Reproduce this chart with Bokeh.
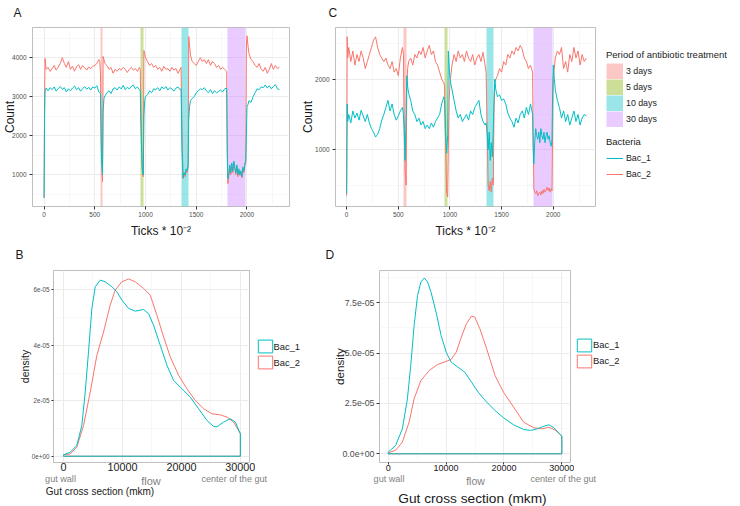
from bokeh.plotting import figure
from bokeh.layouts import row, column
from bokeh.models import Range1d, FixedTicker, Legend, LegendItem, Title, Div
from bokeh.embed import file_html
from bokeh.resources import INLINE

# ---------------- data ----------------
ticks_x = [0, 5, 10, 20, 40, 60, 80, 100, 120, 140, 160, 180, 200, 220, 240, 260, 280, 300, 320, 340, 360, 380, 400, 420, 440, 460, 480, 500, 520, 540,
           550, 556, 566, 576, 582, 590, 600, 620, 640, 660, 680, 700, 720, 740, 760, 780, 800, 820, 840, 860, 880, 900, 920, 940,
           948, 956, 968, 978, 984, 992, 1000, 1020, 1040, 1060, 1080, 1100, 1120, 1140, 1160, 1180, 1200, 1220, 1240, 1260, 1280, 1300, 1320, 1340,
           1350, 1360, 1370, 1380, 1390, 1400, 1410, 1420, 1426, 1434, 1444, 1460, 1480, 1500, 1520, 1540, 1560, 1580, 1600, 1620, 1640, 1660, 1680, 1700, 1720, 1740, 1760, 1780, 1800,
           1806, 1812, 1820, 1830, 1840, 1850, 1860, 1870, 1880, 1890, 1900, 1910, 1920, 1930, 1940, 1950, 1960, 1970, 1980, 1988, 1994, 2000, 2010, 2020, 2040, 2060, 2080, 2100, 2120, 2140, 2160, 2180, 2200, 2220, 2240, 2260, 2280, 2300, 2320]

a_bac1 = [410, 2400, 3150, 3220, 3150, 3230, 3180, 3250, 3140, 3210, 3260, 3190, 3230, 3120, 3200, 3150, 3220, 3270, 3180, 3230, 3140, 3200, 3260, 3190, 3240, 3170, 3250, 3220, 3280, 3120,
          3100, 3080, 1400, 1000, 2600, 2950, 3020, 3100, 3150, 3080, 3200, 3230, 3170, 3250, 3200, 3290, 3180, 3240, 3200, 3260, 3300, 3200, 3250, 3180,
          3150, 2100, 1100, 1000, 2500, 2900, 3000, 3050, 3150, 3100, 3200, 3180, 3230, 3150, 3250, 3200, 3260, 3170, 3230, 3200, 3140, 3220, 3250, 3180,
          3200, 1600, 920, 1050, 1000, 1150, 1100, 1250, 2400, 2750, 2900, 2950, 3000, 3100, 3150, 3200, 3180, 3230, 3150, 3100, 3180, 3080, 3150, 3100, 3130, 3170, 3120, 3200, 3220,
          1500, 900, 1000, 1250, 1050, 1300, 1100, 1350, 1200, 1050, 1250, 1000, 1150, 1000, 1100, 950, 1200, 1100, 1300, 1350, 2000, 2750, 2800, 2900, 2850, 3000, 3100, 3200, 3180, 3250, 3230, 3300, 3220, 3280, 3200, 3260, 3310, 3200, 3180]

a_bac2 = [400, 3000, 3980, 3700, 3750, 3650, 3720, 3800, 3680, 3760, 3850, 4000, 3850, 3750, 3900, 3700, 3780, 3650, 3760, 3820, 3700, 3800, 3740, 3680, 3760, 3720, 3780, 3800, 3850, 3950,
          3900, 3600, 1500, 820, 4030, 3950, 3850, 3800, 3700, 3750, 3600, 3700, 3650, 3720, 3680, 3750, 3700, 3620, 3700, 3750, 3680, 3720, 3650, 3750,
          3700, 2500, 1200, 950, 4180, 4100, 4000, 3900, 3800, 3850, 3750, 3800, 3700, 3750, 3650, 3780, 3700, 3720, 3650, 3750, 3680, 3720, 3600, 3700,
          3750, 2000, 900, 1000, 950, 1100, 1050, 1200, 4540, 4300, 4050, 3900, 3850, 3800, 3900, 4000, 3900, 3950, 3850, 3950, 3800, 3900, 3850, 3750, 3800, 3700, 3750, 3700, 3650,
          1500, 770, 950, 1200, 1000, 1250, 1050, 1300, 1150, 1000, 1200, 950, 1100, 980, 1050, 920, 1150, 1050, 1250, 1300, 4300, 4560, 4300, 4100, 3950, 3900, 3800, 3750, 3850, 3700, 3650, 3750, 3600, 3700, 3850, 3700, 3800, 3720, 3750]

c_bac1 = [380, 1650, 1400, 1500, 1380, 1550, 1450, 1520, 1420, 1560, 1480, 1400, 1500, 1380, 1300, 1250, 1180, 1220, 1300, 1420, 1500, 1600, 1700, 1550, 1650, 1500, 1420, 1480, 1550, 1600,
          1500, 1300, 850, 1500, 2050, 1900, 1800, 1700, 1550, 1500, 1400, 1450, 1350, 1400, 1300, 1350, 1300, 1380, 1320, 1400, 1450, 1500, 1650, 1750,
          1700, 1300, 950, 1200, 2400, 2200, 2000, 1850, 1700, 1550, 1450, 1500, 1400, 1450, 1500, 1420, 1550, 1500, 1600, 1650, 1700, 1500, 1400, 1350,
          1380, 1250, 1000, 1250, 850, 1100, 900, 1300, 1700, 2000, 1850, 1750, 1780, 1700, 1720, 1650, 1520, 1450, 1400, 1320, 1450, 1380, 1500, 1550, 1450, 1600, 1500, 1650, 1500,
          1000, 800, 1100, 1300, 1200, 1150, 1250, 1100, 1300, 1200, 1150, 1250, 1100, 1200, 1250, 1150, 1200, 1100, 1050, 1150, 1800, 2200, 2000, 1850, 1700, 1600, 1450, 1550, 1400, 1500, 1350, 1450, 1550, 1400, 1500, 1350, 1450, 1500, 1480]

c_bac2 = [350, 2600, 2300, 2450, 2250, 2400, 2200, 2350, 2250, 2400, 2300, 2150, 2250, 2350, 2450, 2550, 2600, 2450, 2350, 2300, 2250, 2300, 2200, 2150, 2250, 2100, 2150, 2050, 2300, 2450,
          2350, 1500, 700, 500, 1800, 2150, 2250, 2300, 2200, 2350, 2300, 2400, 2350, 2450, 2300, 2400, 2480, 2350, 2400, 2250, 2200, 2100, 2000, 1950,
          1900, 1200, 400, 330, 1000, 1700, 1950, 2200, 2350, 2250, 2400, 2300, 2350, 2250, 2400, 2300, 2250, 2350, 2200, 2300, 2350, 2250, 2380, 2200,
          2100, 1300, 500, 420, 550, 400, 600, 500, 1500, 1950, 2000, 2050, 2150, 2100, 2250, 2200, 2350, 2300, 2400, 2350, 2450, 2400, 2480, 2420, 2300, 2250, 2150, 2200, 2100,
          1200, 450, 400, 380, 420, 350, 380, 400, 360, 420, 380, 440, 400, 430, 470, 420, 460, 400, 450, 420, 1300, 2000, 2150, 2300, 2400, 2350, 2450, 2150, 2250, 2100, 2350, 2250, 2450, 2300, 2400, 2200, 2350, 2250, 2300]

periods = ["3 days", "5 days", "10 days", "30 days"]
period_start = [554, 950, 1358, 1804]
period_end = [577, 981, 1420, 1988]
period_colors = ["#F8766D", "#7CAE00", "#00BFC4", "#C77CFF"]

bacteria = ["Bac_1", "Bac_2"]
bac_colors = ["#00BFC4", "#F8766D"]

# density (x in mkm, y in units of 1e-05)
b_x_bac1 = [0, 1130, 2260, 3110, 3680, 4240, 4810, 5380, 6230, 7070, 8210, 9050, 9900, 11040, 12170, 13580, 14430, 15280, 16410, 17540, 18680, 20090, 21510, 22920, 24330, 25470, 26030, 27160, 28300, 29150, 30000]
b_y_bac1 = [0.05, 0.14, 0.39, 1.11, 2.31, 3.76, 5.33, 6.11, 6.35, 6.29, 6.11, 5.93, 5.63, 5.33, 5.23, 5.29, 5.14, 4.72, 4.0, 3.28, 2.73, 2.43, 2.13, 1.71, 1.29, 1.07, 1.06, 1.23, 1.35, 1.23, 0.81]
b_x_bac2 = [0, 1130, 2260, 3400, 4530, 5660, 6790, 7920, 8770, 9900, 11040, 12170, 13580, 14710, 15850, 16980, 18110, 19520, 20940, 22350, 23770, 25180, 26600, 27730, 28860, 30000]
b_y_bac2 = [0.05, 0.08, 0.33, 1.11, 2.31, 3.64, 4.48, 5.45, 5.99, 6.29, 6.39, 6.29, 6.05, 5.81, 5.08, 4.30, 3.58, 2.92, 2.43, 2.01, 1.71, 1.53, 1.49, 1.41, 1.23, 0.81]

d_x_bac1 = [0, 1280, 2450, 3320, 3900, 4480, 5070, 5650, 6230, 6810, 7400, 8270, 9140, 10020, 10890, 12060, 13220, 14390, 15550, 17010, 18460, 19920, 21670, 23410, 24580, 25740, 26910, 27780, 28650, 30000]
d_y_bac1 = [0.08, 0.41, 1.24, 2.73, 4.39, 6.37, 7.86, 8.53, 8.73, 8.53, 8.03, 7.04, 5.88, 5.05, 4.55, 4.30, 4.06, 3.56, 3.06, 2.57, 2.15, 1.79, 1.44, 1.21, 1.16, 1.24, 1.37, 1.44, 1.29, 0.88]
d_x_bac2 = [0, 1280, 2450, 3610, 4480, 5650, 7110, 8560, 10020, 10890, 11760, 12640, 13510, 14390, 14970, 15840, 17010, 18460, 19920, 21670, 23410, 25160, 26620, 27780, 28940, 30000]
d_y_bac2 = [0.05, 0.17, 0.58, 1.57, 2.73, 3.64, 4.14, 4.44, 4.59, 4.69, 5.05, 5.79, 6.46, 6.84, 6.79, 6.21, 5.22, 3.89, 3.06, 2.32, 1.57, 1.29, 1.24, 1.32, 1.16, 0.88]

ts_xticks = [0, 500, 1000, 1500, 2000]
ts_xminor = [250, 750, 1250, 1750, 2250]
a_yticks = [1000, 2000, 3000, 4000]
a_yminor = [500, 1500, 2500, 3500, 4500]
c_yticks = [1000, 2000]
c_yminor = [500, 1500, 2500]
gut_xticks = [0, 10000, 20000, 30000]
gut_xminor = [5000, 15000, 25000]
b_yticks = [0, 2e-05, 4e-05, 6e-05]
b_ylabels = ["0e+00", "2e-05", "4e-05", "6e-05"]
b_yminor = [1e-05, 3e-05, 5e-05]
d_yticks = [0, 2.5e-05, 5e-05, 7.5e-05]
d_ylabels = ["0.0e+00", "2.5e-05", "5.0e-05", "7.5e-05"]
d_yminor = [1.25e-05, 3.75e-05, 6.25e-05, 8.75e-05]

# texts under the density panels: (text, x px, y px within the strip, size px, colour)
GREY, DARK = "#7F7F7F", "#1A1A1A"
under_texts = [
    ("gut wall", 60.5, 4.5, 9.1, GREY), ("flow", 151, 5.5, 11, GREY),
    ("center of the gut", 234.3, 4.5, 9.1, GREY), ("Gut cross section (mkm)", 100, 16.5, 10, DARK),
    ("gut wall", 389, 5, 9.1, GREY), ("flow", 475.5, 5.5, 10.5, GREY),
    ("center of the gut", 563.3, 5, 9.1, GREY), ("Gut cross section (mkm)", 472.5, 23.5, 13.7, DARK),
]

FONT = "Liberation Sans"
NAN = float("nan")
ROW1, ROW2, ROW3 = 240, 235, 31


def base_fig(width, height, left, right, top, bottom, xr, yr, xt, xm, yt, ym):
    p = figure(width=width, height=height, x_range=Range1d(*xr), y_range=Range1d(*yr),
               toolbar_location=None, output_backend="svg", title=None,
               min_border_left=left, min_border_right=right,
               min_border_top=top, min_border_bottom=bottom)
    p.outline_line_color = "#BFBFBF"
    p.outline_line_width = 1
    p.background_fill_color = "white"
    p.border_fill_color = "white"
    xtk = FixedTicker(ticks=xt, minor_ticks=xm)
    ytk = FixedTicker(ticks=yt, minor_ticks=ym)
    p.xaxis.ticker = xtk
    p.yaxis.ticker = ytk
    p.xgrid.ticker = xtk
    p.ygrid.ticker = ytk
    for ax in (p.xaxis[0], p.yaxis[0]):
        ax.axis_line_color = None
        ax.major_tick_line_color = "#333333"
        ax.major_tick_in = 0
        ax.major_tick_out = 3
        ax.minor_tick_in = 0
        ax.minor_tick_out = 0
        ax.major_label_text_font = FONT
        ax.major_label_text_color = "#4D4D4D"
        ax.major_label_text_font_size = "6.5px"
        ax.axis_label_text_font = FONT
        ax.axis_label_text_font_style = "normal"
        ax.axis_label_text_color = DARK
    p.xaxis.major_label_standoff = 2
    p.yaxis.major_label_standoff = 3
    for g in (p.xgrid[0], p.ygrid[0]):
        g.grid_line_color = "#EBEBEB"
        g.grid_line_width = 1
        g.minor_grid_line_color = "#F4F4F4"
        g.minor_grid_line_width = 0.6
    return p


def carrier(width, height):
    p = figure(width=width, height=height, x_range=Range1d(0, 1), y_range=Range1d(0, 1),
               toolbar_location=None, output_backend="svg", title=None,
               x_axis_location=None, y_axis_location=None, min_border=0)
    p.outline_line_color = None
    p.grid.visible = False
    p.border_fill_color = "white"
    return p


def letter(p, text, offset, standoff):
    p.add_layout(Title(text=text, align="left", vertical_align="top", offset=offset,
                       standoff=standoff, text_font=FONT, text_font_size="12px",
                       text_font_style="normal", text_color=DARK), "above")


def ts_panel(width, left, right, xr, yr, yt, ym, s1, s2, let, let_off, count_standoff):
    p = base_fig(width, ROW1, left, right, 27, ROW1 - 27 - 180, xr, yr, ts_xticks, ts_xminor, yt, ym)
    p.vstrip(x0=period_start, x1=period_end, fill_color=period_colors,
             fill_alpha=0.4, line_color=None)
    p.line(ticks_x, s2, line_color=bac_colors[1], line_width=1)
    p.line(ticks_x, s1, line_color=bac_colors[0], line_width=1)
    p.yaxis.axis_label = "Count"
    p.yaxis.axis_label_text_font_size = "12px"
    p.yaxis.axis_label_standoff = count_standoff
    p.xaxis.axis_label = "Ticks * 10\u207b\u00b2"
    p.xaxis.axis_label_text_font_size = "12px"
    p.xaxis.axis_label_standoff = 4
    letter(p, let, let_off, 11)
    return p


pA = ts_panel(298, 29, 9, (-114, 2419), (184, 4773), a_yticks, a_yminor, a_bac1, a_bac2,
              "A", -19, -8)
pC = ts_panel(298, 34, 1, (-108, 2409), (197, 2732), c_yticks, c_yminor, c_bac1, c_bac2,
              "C", -7, -3)

# legend carrier to the right of panel C (its frame is aligned with A and C)
pLeg = carrier(144, ROW1)
period_items = []
for name, col in zip(periods, period_colors):
    r = pLeg.line(x=[NAN], y=[NAN], line_color=col, line_alpha=0.4, line_width=16)
    period_items.append(LegendItem(label=name, renderers=[r]))
bac_items = []
for name, col in zip(bacteria, bac_colors):
    r = pLeg.line(x=[NAN], y=[NAN], line_color=col, line_width=1)
    bac_items.append(LegendItem(label=name, renderers=[r]))


def mk_legend(items, loc, title):
    return Legend(items=items, location=loc, title=title, orientation="vertical",
                  glyph_width=17, glyph_height=16, label_height=16, spacing=0,
                  padding=0, margin=0, label_standoff=3, title_standoff=3,
                  border_line_color=None, background_fill_alpha=0,
                  label_text_font=FONT, label_text_font_size="8.8px", label_text_color=DARK,
                  title_text_font=FONT, title_text_font_size="9.5px",
                  title_text_font_style="normal", title_text_color=DARK)


pLeg.add_layout(mk_legend(period_items, (10, 79), "Period of antibiotic treatment"))
pLeg.add_layout(mk_legend(bac_items, (10, 24), "Bacteria"))


def dens_panel(width, left, right, xr, yr, yt, ylabels, ym, xs1, ys1, xs2, ys2,
               ytick_size, ytick_out, ytick_standoff, xtick_size, xtick_out,
               dens_size, dens_standoff):
    top, fh = 30, 192
    p = base_fig(width, ROW2, left, right, top, ROW2 - top - fh, xr, yr,
                 gut_xticks, gut_xminor, yt, ym)
    p.yaxis.major_label_overrides = {t: s for t, s in zip(yt, ylabels)}
    p.yaxis.major_label_text_font_size = f"{ytick_size}px"
    p.yaxis.major_tick_out = ytick_out
    p.yaxis.major_label_standoff = ytick_standoff
    p.yaxis.axis_label = "density"
    p.yaxis.axis_label_text_font_size = f"{dens_size}px"
    p.yaxis.axis_label_standoff = dens_standoff
    p.xaxis.major_label_text_font_size = f"{xtick_size}px"
    p.xaxis.major_label_text_color = DARK
    p.xaxis.major_tick_out = xtick_out
    p.xaxis.major_label_standoff = 0
    p.patch([*xs2, xs2[-1], xs2[0]], [v * 1e-5 for v in ys2] + [0.0, 0.0],
            fill_alpha=0, line_color=bac_colors[1], line_width=1)
    p.patch([*xs1, xs1[-1], xs1[0]], [v * 1e-5 for v in ys1] + [0.0, 0.0],
            fill_alpha=0, line_color=bac_colors[0], line_width=1)
    return p


def dens_legend_carrier(width, loc):
    c = carrier(width, ROW2)
    items = []
    for name, col in zip(bacteria, bac_colors):
        r = c.quad(left=[NAN], right=[NAN], bottom=[NAN], top=[NAN],
                   fill_alpha=0, line_color=col, line_width=1)
        items.append(LegendItem(label=name, renderers=[r]))
    c.add_layout(Legend(items=items, location=loc, orientation="vertical",
                        glyph_width=18, glyph_height=16, label_height=16, spacing=0,
                        padding=0, margin=0, label_standoff=0,
                        border_line_color=None, background_fill_alpha=0,
                        label_text_font=FONT, label_text_font_size="9.4px",
                        label_text_color=DARK))
    return c


pB = dens_panel(255, 53, 6, (-1700, 31550), (-2.27e-06, 6.696e-05),
                b_yticks, b_ylabels, b_yminor, b_x_bac1, b_y_bac1, b_x_bac2, b_y_bac2,
                6.3, 2, 2, 10.8, 0, 10.5, -2)
letter(pB, "B", -38, 14)
pLegB = dens_legend_carrier(55, (0.5, 92))

pD = dens_panel(264, 69, 4, (-1500, 31500), (-4.32e-06, 9.104e-05),
                d_yticks, d_ylabels, d_yminor, d_x_bac1, d_y_bac1, d_x_bac2, d_y_bac2,
                8.8, 3, 2, 9, 2, 11.6, -7)
letter(pD, "D", -54, 14)
pLegD = dens_legend_carrier(166, (1, 93.3))

spans = "".join(
    f'<span style="position:absolute;left:{x}px;top:{y}px;transform:translate(-50%,-50%);'
    f'font-size:{s}px;color:{c};white-space:nowrap;line-height:1;">{t}</span>'
    for t, x, y, s, c in under_texts)
strip = Div(text=f'<div style="position:relative;width:740px;height:{ROW3}px;'
                 f'font-family:\'{FONT}\',sans-serif;">{spans}</div>',
            width=740, height=ROW3, margin=0)

layout = column(row(pA, pC, pLeg), row(pB, pLegB, pD, pLegD), strip)
open("out.html", "w").write(file_html(layout, INLINE))
